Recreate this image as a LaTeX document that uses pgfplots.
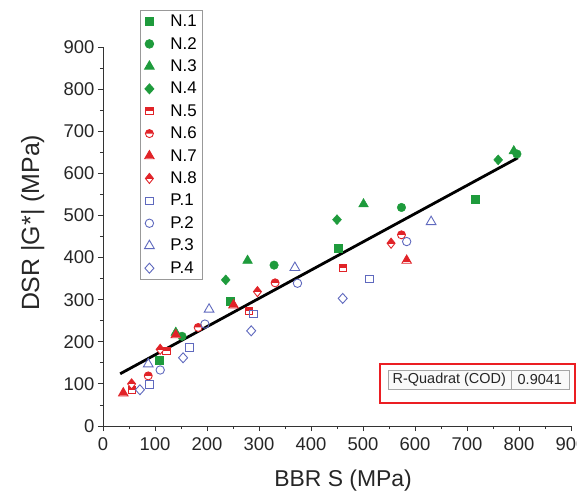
\documentclass[border=0pt]{standalone}
\usepackage{fontspec}
\setmainfont{Liberation Sans}
\usepackage{pgfplots}
\pgfplotsset{compat=1.18}

\definecolor{ngreen}{RGB}{30,155,60}
\definecolor{nred}{RGB}{225,35,40}
\definecolor{pblue}{RGB}{95,105,190}
\definecolor{boxred}{RGB}{235,30,35}

% half-filled marks (top half filled, bottom white)
\pgfdeclareplotmark{hsquare}{%
  \begin{pgfscope}\pgfsetfillcolor{white}%
    \pgfpathrectangle{\pgfqpoint{-\pgfplotmarksize}{-\pgfplotmarksize}}{\pgfqpoint{2\pgfplotmarksize}{2\pgfplotmarksize}}%
    \pgfusepathqfill
  \end{pgfscope}%
  \pgfpathrectangle{\pgfqpoint{-\pgfplotmarksize}{0pt}}{\pgfqpoint{2\pgfplotmarksize}{\pgfplotmarksize}}%
  \pgfusepathqfill
  \pgfpathrectangle{\pgfqpoint{-\pgfplotmarksize}{-\pgfplotmarksize}}{\pgfqpoint{2\pgfplotmarksize}{2\pgfplotmarksize}}%
  \pgfusepathqstroke
}
\pgfdeclareplotmark{hcircle}{%
  \begin{pgfscope}\pgfsetfillcolor{white}%
    \pgfpathcircle{\pgfpointorigin}{\pgfplotmarksize}\pgfusepathqfill
  \end{pgfscope}%
  \pgfpathmoveto{\pgfqpoint{\pgfplotmarksize}{0pt}}%
  \pgfpatharc{0}{180}{\pgfplotmarksize}%
  \pgfpathclose\pgfusepathqfill
  \pgfpathcircle{\pgfpointorigin}{\pgfplotmarksize}\pgfusepathqstroke
}
\def\tripath{%
  \pgfpathmoveto{\pgfqpointpolar{90}{1.3\pgfplotmarksize}}%
  \pgfpathlineto{\pgfqpointpolar{210}{1.3\pgfplotmarksize}}%
  \pgfpathlineto{\pgfqpointpolar{330}{1.3\pgfplotmarksize}}%
  \pgfpathclose}
\pgfdeclareplotmark{htriangle}{%
  \begin{pgfscope}\pgfsetfillcolor{white}\tripath\pgfusepathqfill\end{pgfscope}%
  \begin{pgfscope}%
    \pgfpathrectangle{\pgfqpoint{-1.2\pgfplotmarksize}{-0.3\pgfplotmarksize}}{\pgfqpoint{2.4\pgfplotmarksize}{1.6\pgfplotmarksize}}%
    \pgfusepathqclip
    \tripath\pgfusepathqfill
  \end{pgfscope}%
  \tripath\pgfusepathqstroke
}
\def\diapath{%
  \pgfpathmoveto{\pgfqpoint{0pt}{1.2\pgfplotmarksize}}%
  \pgfpathlineto{\pgfqpoint{0.95\pgfplotmarksize}{0pt}}%
  \pgfpathlineto{\pgfqpoint{0pt}{-1.2\pgfplotmarksize}}%
  \pgfpathlineto{\pgfqpoint{-0.95\pgfplotmarksize}{0pt}}%
  \pgfpathclose}
\pgfdeclareplotmark{hdiamond}{%
  \begin{pgfscope}\pgfsetfillcolor{white}\diapath\pgfusepathqfill\end{pgfscope}%
  \begin{pgfscope}%
    \pgfpathrectangle{\pgfqpoint{-0.95\pgfplotmarksize}{0pt}}{\pgfqpoint{1.9\pgfplotmarksize}{1.2\pgfplotmarksize}}%
    \pgfusepathqclip
    \diapath\pgfusepathqfill
  \end{pgfscope}%
  \diapath\pgfusepathqstroke
}

\begin{document}
\begin{tikzpicture}
\begin{axis}[
  x=0.52bp, y=0.4211bp,
  xmin=0, xmax=900, ymin=0, ymax=900,
  axis lines=left, axis line style={-, line width=0.8bp, black!80},
  clip=false,
  tick align=outside, major tick length=5bp, minor tick length=3bp,
  tick style={line width=0.8bp, black!80},
  xtick={0,100,...,900}, ytick={0,100,...,900},
  minor x tick num=1, minor y tick num=1,
  ticklabel style={font=\fontsize{18.5}{18.5}\selectfont, text=black!85},
  xticklabel style={yshift=-3bp},
  /pgf/number format/assume math mode=true,
  xlabel={BBR S (MPa)}, ylabel={DSR |G*| (MPa)},
  label style={text=black!85},
  xlabel style={font=\fontsize{23}{23}\selectfont, at={(axis description cs:0.513,-0.145)}, anchor=center},
  ylabel style={font=\fontsize{25}{25}\selectfont, at={(axis description cs:-0.15,0.536)}, anchor=center},
  legend cell align=left,
  legend style={at={(axis description cs:0.079,1.0976)}, anchor=north west,
    draw=gray!80, line width=0.8bp, font=\fontsize{17}{17}\selectfont,
    row sep=5.2bp, inner xsep=4bp, inner ysep=2.5bp,
    /tikz/every odd column/.append style={column sep=14bp}},
]
\coordinate (O) at (axis cs:0,0);
% N series (filled green)
\addplot[only marks, color=ngreen, mark=square*, mark size=4bp] coordinates {(108,157)(245,297)(452,423)(715,539)};
\addplot[only marks, color=ngreen, mark=*, mark size=4.3bp] coordinates {(152,213)(329,382)(574,519)(796,646)};
\addplot[only marks, color=ngreen, mark=triangle*, mark size=5.6bp] coordinates {(140,222)(278,393)(501,527)(790,653)};
\addplot[only marks, color=ngreen, mark=diamond*, mark size=5bp, mark options={xscale=1.2}] coordinates {(236,347)(450,490)(760,632)};
% N series (half filled red)
\addplot[only marks, color=nred, mark=hsquare, mark size=3.6bp, mark options={line width=0.9bp}] coordinates {(55,85)(122,178)(281,274)(461,375)};
\addplot[only marks, color=nred, mark=hcircle, mark size=4bp, mark options={line width=0.9bp}] coordinates {(87,119)(183,234)(331,340)(574,454)};
\addplot[only marks, color=nred, mark=htriangle, mark size=4.2bp, mark options={line width=0.9bp}] coordinates {(39,78)(140,216)(251,287)(584,393)};
\addplot[only marks, color=nred, mark=hdiamond, mark size=4.2bp, mark options={line width=0.9bp}] coordinates {(55,100)(110,182)(297,319)(554,434)};
% P series (open blue)
\addplot[only marks, color=pblue, mark=square, mark size=3.8bp, mark options={line width=0.9bp}] coordinates {(89,99)(166,186)(289,266)(512,349)};
\addplot[only marks, color=pblue, mark=o, mark size=4.2bp, mark options={line width=0.9bp}] coordinates {(110,133)(196,242)(374,339)(584,438)};
\addplot[only marks, color=pblue, mark=triangle, mark size=5.6bp, mark options={line width=0.9bp}] coordinates {(87,147)(204,277)(369,376)(631,485)};
\addplot[only marks, color=pblue, mark=diamond, mark size=5bp, mark options={line width=0.9bp, xscale=1.2}] coordinates {(71,86)(154,162)(285,226)(461,303)};
% linear fit
\addplot[black, line width=2.8bp, forget plot] coordinates {(33,124)(798,637)};
\legend{N.1,N.2,N.3,N.4,N.5,N.6,N.7,N.8,P.1,P.2,P.3,P.4}
% R-square box
\draw[boxred, line width=2bp] (axis cs:533,147) rectangle (axis cs:907,55);
\draw[gray!70, fill=gray!5, line width=0.8bp] (axis cs:548,133) rectangle (axis cs:896,86);
\draw[gray!70, line width=0.8bp] (axis cs:785,133) -- (axis cs:785,86);
\node[font=\fontsize{14.5}{14.5}\selectfont, text=black!85] at (axis cs:666,109) {R-Quadrat (COD)};
\node[font=\fontsize{14.5}{14.5}\selectfont, text=black!85] at (axis cs:840,111) {0.9041};
\end{axis}
\pgfresetboundingbox
\path[use as bounding box] ([shift={(-103bp,-67bp)}]O) rectangle ([shift={(474bp,426bp)}]O);
\end{tikzpicture}
\end{document}
